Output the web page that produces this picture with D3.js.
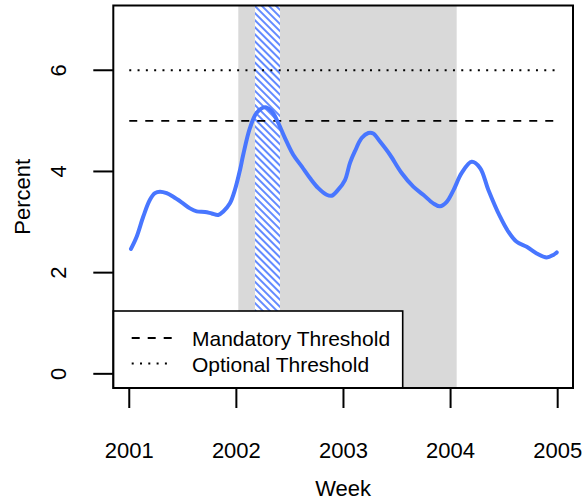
<!DOCTYPE html>
<meta charset="utf-8">
<style>
    body { margin: 0; background: #fff; }
    svg { display: block; font-family: "Liberation Sans", Arial, sans-serif; }
    .tick-label { font-size: 22px; fill: #000; }
    .ttl { font-size: 22px; fill: #000; }
    .leg-label { font-size: 21px; fill: #000; }
</style>
<script src="https://cdn.jsdelivr.net/npm/d3@7"></script>
<svg width="587" height="504"></svg>
<script>
    // semanas (ano decimal) e percentual
    var weeks = [2001.016, 2001.069, 2001.131, 2001.193, 2001.240, 2001.287, 2001.349, 2001.411,
        2001.489, 2001.567, 2001.629, 2001.707, 2001.769, 2001.831, 2001.878, 2001.940, 2001.987,
        2002.034, 2002.064, 2002.127, 2002.190, 2002.267, 2002.330, 2002.391, 2002.454, 2002.531,
        2002.610, 2002.687, 2002.765, 2002.843, 2002.890, 2002.951, 2003.014, 2003.061, 2003.107,
        2003.170, 2003.232, 2003.278, 2003.341, 2003.434, 2003.543, 2003.652, 2003.745, 2003.838,
        2003.901, 2003.964, 2004.025, 2004.104, 2004.197, 2004.275, 2004.352, 2004.461, 2004.539,
        2004.617, 2004.711, 2004.804, 2004.897, 2004.959, 2004.991];
    var percent = [2.47, 2.71, 3.11, 3.44, 3.57, 3.60, 3.57, 3.50,
        3.39, 3.27, 3.21, 3.20, 3.17, 3.14, 3.21, 3.37, 3.64,
        4.03, 4.33, 4.86, 5.16, 5.27, 5.19, 4.96, 4.66, 4.33,
        4.10, 3.87, 3.67, 3.54, 3.52, 3.64, 3.83, 4.17, 4.40,
        4.66, 4.76, 4.75, 4.59, 4.33, 3.97, 3.70, 3.54, 3.37,
        3.31, 3.40, 3.62, 3.97, 4.19, 4.07, 3.64, 3.11, 2.81,
        2.61, 2.51, 2.38, 2.30, 2.35, 2.40];

    var xTicks = [2001, 2002, 2003, 2004, 2005];
    var yTicks = [0, 2, 4, 6];
    var shaded = [2002.018, 2004.057];
    var hatched = [2002.174, 2002.407];
    var thresholds = [
        { name: "Mandatory Threshold", value: 5, dash: "8,8" },
        { name: "Optional Threshold", value: 6, dash: "2,6.3" }
    ];

    var svg = d3.select("svg");
    var pL = 113.3, pR = 573, pT = 5.5, pB = 388;

    var x = d3.scaleLinear().domain([2000.851, 2005.143]).range([pL, pR]);
    var y = d3.scaleLinear().domain([-0.28, 7.28]).range([pB, pT]);

    var defs = svg.append("defs");
    defs.append("clipPath").attr("id", "area")
        .append("rect").attr("x", pL).attr("y", pT)
        .attr("width", pR - pL).attr("height", pB - pT);

    var pat = defs.append("pattern")
        .attr("id", "hatch")
        .attr("patternUnits", "userSpaceOnUse")
        .attr("width", 5).attr("height", 10)
        .attr("patternTransform", "rotate(-45)");
    pat.append("rect").attr("width", 5).attr("height", 10).attr("fill", "#fff");
    pat.append("line").attr("x1", 1).attr("x2", 1).attr("y1", 0).attr("y2", 10)
        .attr("stroke", "#4876FF").attr("stroke-width", 1.7);

    var g = svg.append("g").attr("clip-path", "url(#area)");

    g.append("rect")
        .attr("x", x(shaded[0])).attr("y", pT)
        .attr("width", x(shaded[1]) - x(shaded[0])).attr("height", pB - pT)
        .attr("fill", "#d9d9d9");

    g.append("rect")
        .attr("x", x(hatched[0])).attr("y", pT)
        .attr("width", x(hatched[1]) - x(hatched[0])).attr("height", pB - pT)
        .attr("fill", "url(#hatch)");

    g.selectAll(".thr")
        .data(thresholds)
        .enter().append("line")
        .attr("class", "thr")
        .attr("x1", x(2001)).attr("x2", x(2005))
        .attr("y1", function (d) { return y(d.value); })
        .attr("y2", function (d) { return y(d.value); })
        .attr("stroke", "#000").attr("stroke-width", 1.9)
        .attr("stroke-dasharray", function (d) { return d.dash; });

    var line = d3.line()
        .x(function (d, i) { return x(weeks[i]); })
        .y(function (d) { return y(d); })
        .curve(d3.curveCatmullRom);

    g.append("path")
        .datum(percent)
        .attr("d", line)
        .attr("fill", "none")
        .attr("stroke", "#4876FF")
        .attr("stroke-width", 4)
        .attr("stroke-linejoin", "round")
        .attr("stroke-linecap", "round");

    // legenda
    var leg = svg.append("g");
    leg.append("rect")
        .attr("x", pL).attr("y", 311)
        .attr("width", 402.7 - pL).attr("height", pB - 311)
        .attr("fill", "#fff").attr("stroke", "#000").attr("stroke-width", 1.6);
    var row = leg.selectAll(".row")
        .data(thresholds)
        .enter().append("g")
        .attr("transform", function (d, i) { return "translate(0," + (338 + i * 25.5) + ")"; });
    row.append("line")
        .attr("x1", 131.7).attr("x2", 171.7)
        .attr("stroke", "#000").attr("stroke-width", 1.9)
        .attr("stroke-dasharray", function (d) { return d.dash; });
    row.append("text")
        .attr("class", "leg-label")
        .attr("x", 192).attr("y", 8)
        .text(function (d) { return d.name; });

    // caixa
    svg.append("rect")
        .attr("x", pL).attr("y", pT)
        .attr("width", pR - pL).attr("height", pB - pT)
        .attr("fill", "none").attr("stroke", "#000").attr("stroke-width", 2);

    // eixo x
    var xa = svg.append("g");
    xa.selectAll(".t").data(xTicks).enter().append("line")
        .attr("x1", x).attr("x2", x).attr("y1", pB).attr("y2", pB + 20)
        .attr("stroke", "#000").attr("stroke-width", 2);
    xa.selectAll(".tick-label").data(xTicks).enter().append("text")
        .attr("class", "tick-label")
        .attr("x", x).attr("y", 458)
        .attr("text-anchor", "middle")
        .text(function (d) { return d; });
    svg.append("text").attr("class", "ttl")
        .attr("x", (pL + pR) / 2).attr("y", 496)
        .attr("text-anchor", "middle").text("Week");

    // eixo y
    var ya = svg.append("g");
    ya.selectAll(".t").data(yTicks).enter().append("line")
        .attr("x1", pL - 20).attr("x2", pL).attr("y1", y).attr("y2", y)
        .attr("stroke", "#000").attr("stroke-width", 2);
    ya.selectAll(".tick-label").data(yTicks).enter().append("text")
        .attr("class", "tick-label")
        .attr("transform", function (d) { return "translate(66," + y(d) + ") rotate(-90)"; })
        .attr("text-anchor", "middle")
        .text(function (d) { return d; });
    svg.append("text").attr("class", "ttl")
        .attr("transform", "translate(30," + ((pT + pB) / 2) + ") rotate(-90)")
        .attr("text-anchor", "middle").text("Percent");
</script>
